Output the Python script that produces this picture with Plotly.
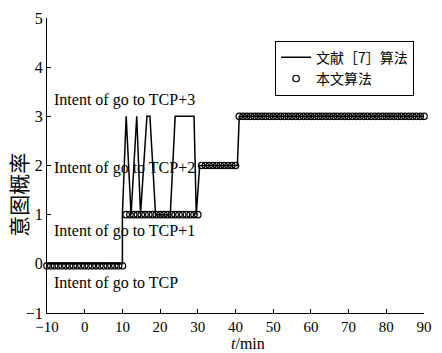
import plotly.graph_objects as go

# Reference algorithm [7]: intent value over time (polyline vertices)
ref_t = [-10, 10, 10, 11, 12.3, 13.8, 14.8, 16.5, 17.3, 18.8, 22.7, 24, 29, 29.6, 30.5, 40.5, 41, 90]
ref_v = [0, 0, 1, 3, 1, 3, 1, 3, 3, 1, 1, 3, 3, 1, 2, 2, 3, 3]

# Proposed algorithm: intent sampled once per minute
our_t = [-10, -9, -8, -7, -6, -5, -4, -3, -2, -1, 0, 1, 2, 3, 4, 5, 6, 7, 8, 9, 10,
         11, 12, 13, 14, 15, 16, 17, 18, 19, 20, 21, 22, 23, 24, 25, 26, 27, 28, 29, 30,
         31, 32, 33, 34, 35, 36, 37, 38, 39, 40,
         41, 42, 43, 44, 45, 46, 47, 48, 49, 50, 51, 52, 53, 54, 55, 56, 57, 58, 59, 60,
         61, 62, 63, 64, 65, 66, 67, 68, 69, 70, 71, 72, 73, 74, 75, 76, 77, 78, 79, 80,
         81, 82, 83, 84, 85, 86, 87, 88, 89, 90]
our_v = [-0.04, -0.04, -0.04, -0.04, -0.04, -0.04, -0.04, -0.04, -0.04, -0.04, -0.04,
         -0.04, -0.04, -0.04, -0.04, -0.04, -0.04, -0.04, -0.04, -0.04, -0.04,
         1, 1, 1, 1, 1, 1, 1, 1, 1, 1, 1, 1, 1, 1, 1, 1, 1, 1, 1, 1,
         2, 2, 2, 2, 2, 2, 2, 2, 2, 2,
         3, 3, 3, 3, 3, 3, 3, 3, 3, 3, 3, 3, 3, 3, 3, 3, 3, 3, 3, 3,
         3, 3, 3, 3, 3, 3, 3, 3, 3, 3, 3, 3, 3, 3, 3, 3, 3, 3, 3, 3,
         3, 3, 3, 3, 3, 3, 3, 3, 3, 3]

intent_labels = ["Intent of go to TCP+3", "Intent of go to TCP+2",
                 "Intent of go to TCP+1", "Intent of go to TCP"]
intent_label_y = [3.33, 1.94, 0.67, -0.38]

x_ticks = [-10, 0, 10, 20, 30, 40, 50, 60, 70, 80, 90]
y_ticks = [-1, 0, 1, 2, 3, 4, 5]

SERIF = "Liberation Serif, Times New Roman, serif"
CJK = "Noto Sans CJK SC"

W, H = 442, 353
L, R, T, B = 47, 10, 15, 40
pw, ph = W - L - R, H - T - B

fig = go.Figure()
fig.add_trace(go.Scatter(
    x=ref_t, y=ref_v, mode="lines", name="文献［7］算法",
    line=dict(color="black", width=1.5), cliponaxis=False,
))
fig.add_trace(go.Scatter(
    x=our_t, y=our_v, mode="markers", name="本文算法",
    marker=dict(symbol="circle-open", size=6.5, color="black", line=dict(width=1.2)),
    cliponaxis=False,
))

for txt, yv in zip(intent_labels, intent_label_y):
    fig.add_annotation(x=-8.7, y=yv, text=txt, showarrow=False, xanchor="left",
                       yanchor="middle", font=dict(family=SERIF, size=16, color="black"))

# Axis titles, positioned in pixels and converted to paper fractions
def px_to_paper(px, py):
    return (px - L) / pw, (H - B - py) / ph

yx, yy = px_to_paper(18, 194)
fig.add_annotation(x=yx, y=yy, xref="paper", yref="paper", text="意图概率",
                   showarrow=False, textangle=-90, xanchor="center", yanchor="middle",
                   font=dict(family=CJK, size=21, color="black"))
tx, ty = px_to_paper(252, 353)
fig.add_annotation(x=tx, y=ty, xref="paper", yref="paper", text="<i>t</i>/min",
                   showarrow=False, xanchor="center", yanchor="bottom", borderpad=0,
                   font=dict(family=SERIF, size=16, color="black"))

fig.update_layout(
    width=W, height=H,
    margin=dict(l=L, r=R, t=T, b=B),
    paper_bgcolor="white", plot_bgcolor="white",
    showlegend=True,
    legend=dict(
        x=0.605, y=0.923, xanchor="left", yanchor="top",
        bgcolor="white", bordercolor="black", borderwidth=1,
        font=dict(family=CJK, size=14, color="black"),
        itemwidth=30, tracegroupgap=0,
    ),
    xaxis=dict(
        range=[-10, 90], tickvals=x_ticks, ticks="inside", ticklen=4,
        tickcolor="black", showline=True, linecolor="black", linewidth=1,
        showgrid=False, zeroline=False,
        tickfont=dict(family=SERIF, size=15, color="black"),
    ),
    yaxis=dict(
        range=[-1, 5], tickvals=y_ticks, ticks="inside", ticklen=4,
        tickcolor="black", showline=True, linecolor="black", linewidth=1,
        showgrid=False, zeroline=False,
        tickfont=dict(family=SERIF, size=16, color="black"),
    ),
)

fig.write_html("out.html")
